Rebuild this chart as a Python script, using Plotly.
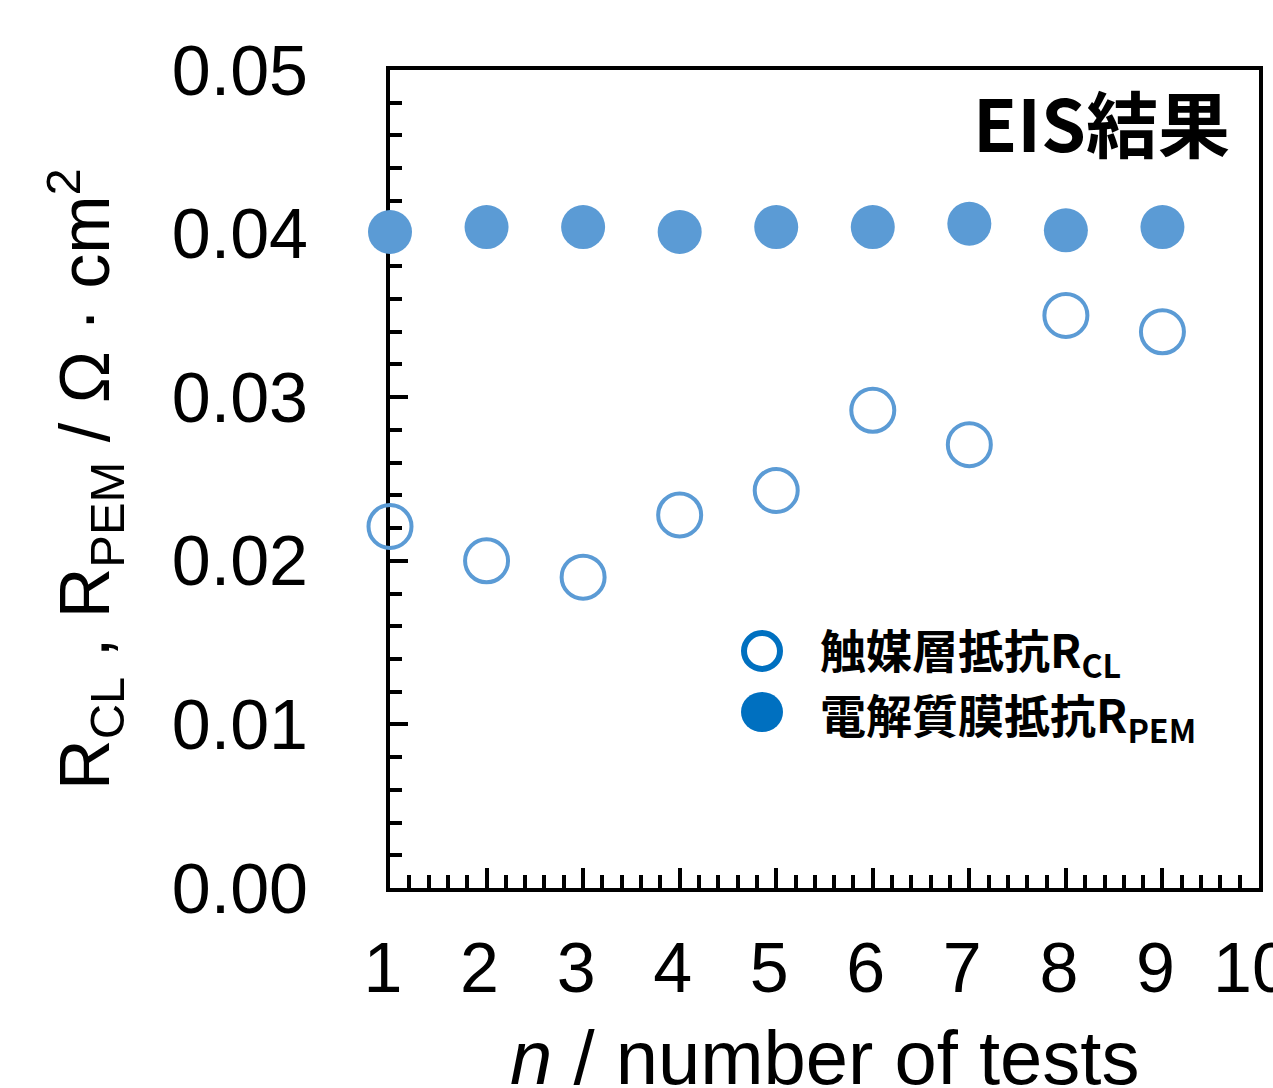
import plotly.graph_objects as go

# ---- data ----
n_tests = [1, 2, 3, 4, 5, 6, 7, 8, 9]
r_cl = [0.0221, 0.0200, 0.0190, 0.0228, 0.0243, 0.0292, 0.0271, 0.0350, 0.0340]
r_pem = [0.0401, 0.0404, 0.0404, 0.0401, 0.0404, 0.0404, 0.0406, 0.0402, 0.0404]
x_ticks = [1, 2, 3, 4, 5, 6, 7, 8, 9, 10]
y_ticks = [0.00, 0.01, 0.02, 0.03, 0.04, 0.05]
legend_labels = ["触媒層抵抗R<sub>CL</sub>", "電解質膜抵抗R<sub>PEM</sub>"]
title_text = "EIS結果"
x_title = "<i>n</i> / number of tests"
y_title = "R<sub>CL</sub> , R<sub>PEM</sub> / Ω · cm<sup>2</sup>"

DATA_BLUE = "#5B9BD5"
LEG_BLUE = "#0070C0"
LATIN = "Liberation Sans, Arial, sans-serif"
CJK = "Noto Sans CJK JP, sans-serif"

W, H = 1273, 1088
L, R, T, B = 390, 14, 70, 200

fig = go.Figure()
fig.add_trace(go.Scatter(
    x=n_tests, y=r_pem, mode="markers", name="電解質膜抵抗R_PEM",
    marker=dict(size=44, color=DATA_BLUE, line=dict(width=0)),
    cliponaxis=False, showlegend=False))
fig.add_trace(go.Scatter(
    x=n_tests, y=r_cl, mode="markers", name="触媒層抵抗R_CL",
    marker=dict(size=43, color="rgba(0,0,0,0)", line=dict(width=4, color=DATA_BLUE)),
    cliponaxis=False, showlegend=False))

axis_common = dict(
    showline=True, linewidth=4, linecolor="black", mirror=True,
    ticks="inside", tickwidth=4, tickcolor="black",
    showgrid=False, zeroline=False, automargin=False,
    layer="below traces", ticklabeloverflow="allow",
    tickfont=dict(family=LATIN, size=70, color="black"),
)

fig.update_xaxes(
    **axis_common, range=[1, 10], tickvals=x_ticks,
    ticktext=[str(v) for v in x_ticks], ticklen=20,
    minor=dict(dtick=0.2, ticklen=13, tickwidth=4, tickcolor="black", ticks="inside", showgrid=False),
    ticklabelstandoff=16, ticklabelshift=-7,
)
fig.update_yaxes(
    **axis_common, range=[0, 0.05], tickvals=y_ticks,
    ticktext=[f"{v:.2f}" for v in y_ticks], ticklen=18,
    minor=dict(dtick=0.002, ticklen=12, tickwidth=4, tickcolor="black", ticks="inside", showgrid=False),
    ticklabelstandoff=64,
    title=dict(text=y_title, standoff=40,
               font=dict(family=LATIN, size=70, color="black")),
)

pw, ph = W - L - R, H - T - B
def px(x): return (x - L) / pw
def py(y): return (H - B - y) / ph

shapes = []
# legend symbols (open and filled circles)
r1 = 18
shapes.append(dict(type="circle", xref="paper", yref="paper",
                   x0=px(762 - r1), x1=px(762 + r1), y0=py(651 + r1), y1=py(651 - r1),
                   line=dict(color=LEG_BLUE, width=6), fillcolor="white"))
r2 = 21
shapes.append(dict(type="circle", xref="paper", yref="paper",
                   x0=px(762 - r2), x1=px(762 + r2), y0=py(712 + r2 - 1), y1=py(712 - r2 + 1),
                   line=dict(color=LEG_BLUE, width=0), fillcolor=LEG_BLUE))

annotations = [
    dict(text=f"<b>{title_text}</b>", xref="paper", yref="paper",
         x=px(1232), y=py(120), xanchor="right", yanchor="middle", showarrow=False,
         font=dict(family=CJK, size=72, color="black")),
    dict(text=f"<b>{legend_labels[0]}</b>", xref="paper", yref="paper",
         x=px(818), y=py(651), xanchor="left", yanchor="middle", showarrow=False,
         font=dict(family=CJK, size=46, color="black")),
    dict(text=f"<b>{legend_labels[1]}</b>", xref="paper", yref="paper",
         x=px(818), y=py(716), xanchor="left", yanchor="middle", showarrow=False,
         font=dict(family=CJK, size=46, color="black")),
    dict(text=x_title, xref="paper", yref="paper",
         x=0.5, y=py(1057), xanchor="center", yanchor="middle", showarrow=False,
         font=dict(family=LATIN, size=76, color="black")),
]

fig.update_layout(
    template="none", width=W, height=H,
    margin=dict(l=L, r=R, t=T, b=B, pad=0),
    paper_bgcolor="white", plot_bgcolor="white",
    showlegend=False, shapes=shapes, annotations=annotations,
)

fig.write_html("out.html")
